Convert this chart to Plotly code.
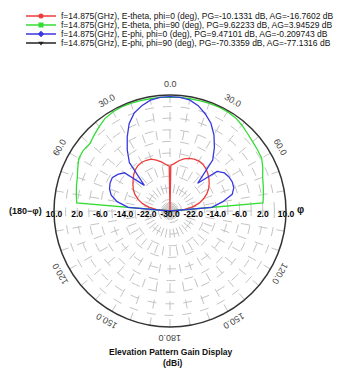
import math
import numpy as np
import plotly.graph_objects as go

# ---------------- data ----------------
THETA = [-90, -85, -80, -75, -70, -65, -60, -55, -50, -45, -40, -35, -30, -25, -20, -15, -10, -5,
         0, 5, 10, 15, 20, 25, 30, 35, 40, 45, 50, 55, 60, 65, 70, 75, 80, 85, 90]

RED_THETA = [-90, -85, -80, -75, -70, -65, -60, -55, -50, -45, -40, -35, -30, -25, -20, -15, -10, -5, -1,
             0, 1, 5, 10, 15, 20, 25, 30, 35, 40, 45, 50, 55, 60, 65, 70, 75, 80, 85, 90]
RED_ETHETA_PHI0 = [-30, -25.8, -22.7, -20.2, -18.3, -16.7, -15.4, -14.4, -13.4, -12.3, -11.4, -10.8, -10.6,
                   -10.7, -11.0, -11.8, -12.8, -13.9, -14.5,
                   -30,
                   -14.3, -13.6, -12.4, -11.4, -10.7, -10.3, -10.13, -10.3, -10.8, -11.6, -12.5, -13.5,
                   -14.6, -16.0, -17.7, -19.6, -22.2, -25.5, -30]

GREEN_ETHETA_PHI90 = [-30, 2.3, 2.8, 3.4, 4.0, 5.1, 6.3, 6.5, 6.1, 7.0, 8.0, 9.0, 9.4, 9.6, 9.5, 9.4, 9.3, 9.3,
                      9.3,
                      9.3, 9.3, 9.4, 9.5, 9.6, 9.55, 9.3, 8.6, 7.8, 7.2, 6.8, 6.5, 5.3, 4.0, 3.3, 2.7, 2.2, -30]

BLUE_EPHI_PHI0 = [-30, -15.5, -11.5, -9.0, -7.8, -7.2, -7.0, -8.0, -9.5, -17.5, -8.2, -4.3, -0.5, 3.3, 6.0, 7.6,
                  8.8, 9.3,
                  9.47,
                  9.3, 8.9, 7.6, 5.6, 3.4, 0.3, -3.3, -7.1, -16.5, -8.8, -7.1, -6.5, -6.3, -6.6, -7.8, -11.5,
                  -15.5, -30]

BLACK_EPHI_PHI90 = [-95, -88, -84, -81, -79, -77, -76, -75, -74, -73, -72.5, -72, -71.5, -71, -70.8, -70.6,
                    -70.4, -70.35, -70.34, -70.35, -70.4, -70.6, -70.8, -71, -71.5, -72, -72.5, -73, -74,
                    -75, -76, -77, -79, -81, -84, -88, -95]

LEGEND_NAMES = [
    "f=14.875(GHz), E-theta, phi=0 (deg), PG=-10.1331 dB, AG=-16.7602 dB",
    "f=14.875(GHz), E-theta, phi=90 (deg), PG=9.62233 dB, AG=3.94529 dB",
    "f=14.875(GHz), E-phi, phi=0 (deg), PG=9.47101 dB, AG=-0.209743 dB",
    "f=14.875(GHz), E-phi, phi=90 (deg), PG=-70.3359 dB, AG=-77.1316 dB",
]
COLORS = ["#ee3b3b", "#33dd33", "#3838e0", "#222222"]
SYMBOLS = ["circle", "square", "diamond", "triangle-down"]

R_MIN, R_MAX = -30, 10
RADIAL_TICKS = [-22, -14, -6, 2, 10]
RADIAL_LABELS = ["-22.0", "-14.0", "-6.0", "2.0", "10.0"]

ANG_POS = [0, 30, 60, 120, 150, 180, -30, -60, -120, -150]
ANG_TEXT = ["0.0", "30.0", "60.0", "120.0", "150.0", "180.0", "30.0", "60.0", "120.0", "150.0"]

# ---------------- layout constants ----------------
W, H = 359, 373
CX, CY, RAD = 170, 211, 116
LABEL_RAD = 127
FONT = "Arial, Liberation Sans, sans-serif"

fig = go.Figure()

series = [
    (RED_THETA, RED_ETHETA_PHI0),
    (THETA, GREEN_ETHETA_PHI90),
    (THETA, BLUE_EPHI_PHI0),
    (THETA, BLACK_EPHI_PHI90),
]
for (th, vals), col in zip(series, COLORS):
    fig.add_trace(go.Scatterpolar(
        theta=th, r=np.maximum(np.array(vals, dtype=float), R_MIN),
        mode="lines", line=dict(color=col, width=1.3),
        showlegend=False, hoverinfo="skip"))

# radial tick labels on both sides
tick_font = dict(family=FONT, size=8.5, color="#000000", weight="bold")
for side in (-90, 90):
    fig.add_trace(go.Scatterpolar(
        theta=[side] * len(RADIAL_TICKS), r=RADIAL_TICKS, text=RADIAL_LABELS,
        mode="text", textposition="bottom center", cliponaxis=False,
        textfont=tick_font, showlegend=False, hoverinfo="skip"))
fig.add_trace(go.Scatterpolar(
    theta=[0], r=[R_MIN], text=["-30.0"], mode="text", textposition="bottom center",
    cliponaxis=False, textfont=tick_font, showlegend=False, hoverinfo="skip"))

# legend entries
legend_keys = ["legend", "legend2", "legend3", "legend4"]
for name, col, sym, key in zip(LEGEND_NAMES, COLORS, SYMBOLS, legend_keys):
    fig.add_trace(go.Scatterpolar(
        theta=[None], r=[None], name=name, mode="lines+markers",
        line=dict(color=col, width=1.3),
        marker=dict(color=col, symbol=sym, size=5),
        legend=key, showlegend=True))

legend_y_px = [16, 25, 34, 43]
legend_layout = {}
for key, ypx in zip(legend_keys, legend_y_px):
    legend_layout[key] = dict(
        x=21 / W, y=1 - ypx / H, xanchor="left", yanchor="middle",
        bgcolor="rgba(0,0,0,0)", borderwidth=0, itemwidth=30,
        font=dict(family=FONT, size=8.5, color="#111111"), tracegroupgap=0)

annotations = []
for a, t in zip(ANG_POS, ANG_TEXT):
    px = CX + LABEL_RAD * math.sin(math.radians(a))
    py = CY - LABEL_RAD * math.cos(math.radians(a))
    annotations.append(dict(
        x=px / W, y=1 - py / H, xref="paper", yref="paper", text=t, showarrow=False,
        textangle=a, xanchor="center", yanchor="middle",
        font=dict(family=FONT, size=9, color="#444444")))

annotations.append(dict(x=25 / W, y=1 - 211 / H, xref="paper", yref="paper", text="<b>(180−φ)</b>",
                        showarrow=False, xanchor="center", yanchor="middle",
                        font=dict(family=FONT, size=9, color="#111111")))
annotations.append(dict(x=300 / W, y=1 - 209 / H, xref="paper", yref="paper", text="<b>φ</b>",
                        showarrow=False, xanchor="center", yanchor="middle",
                        font=dict(family=FONT, size=10, color="#111111")))
annotations.append(dict(x=171 / W, y=1 - 352 / H, xref="paper", yref="paper",
                        text="<b>Elevation Pattern Gain Display</b>",
                        showarrow=False, xanchor="center", yanchor="middle",
                        font=dict(family=FONT, size=8.5, color="#111111")))
annotations.append(dict(x=173 / W, y=1 - 363 / H, xref="paper", yref="paper", text="<b>(dBi)</b>",
                        showarrow=False, xanchor="center", yanchor="middle",
                        font=dict(family=FONT, size=8.5, color="#111111")))

fig.update_layout(
    width=W, height=H, autosize=False,
    margin=dict(l=0, r=0, t=0, b=0, pad=0, autoexpand=False),
    paper_bgcolor="white", plot_bgcolor="white",
    polar=dict(
        domain=dict(x=[(CX - RAD) / W, (CX + RAD) / W], y=[1 - (CY + RAD) / H, 1 - (CY - RAD) / H]),
        bgcolor="white",
        angularaxis=dict(rotation=90, direction="clockwise", dtick=10, showticklabels=False, ticks="",
                         showline=True, linecolor="#333333", linewidth=1.5,
                         gridcolor="#c4c4c4", griddash="dash", gridwidth=1),
        radialaxis=dict(range=[R_MIN, R_MAX], tick0=R_MIN, dtick=4, showticklabels=False, ticks="",
                        showline=False, gridcolor="#c4c4c4", griddash="dash", gridwidth=1),
    ),
    annotations=annotations,
    **legend_layout,
)

fig.write_html(
    "out.html",
    config={"displayModeBar": False},
    post_script="document.body.style.margin='0';document.body.style.overflow='hidden';",
)
